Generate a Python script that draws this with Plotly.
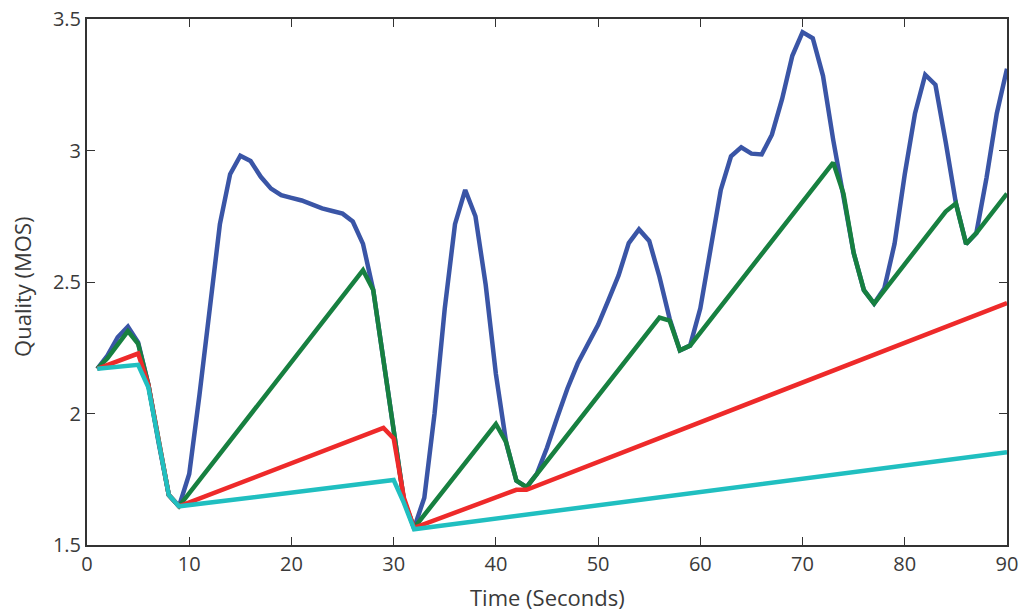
import plotly.graph_objects as go

# Blue series (sampled every second)
blue_x = list(range(1, 91))
blue_y = [2.17, 2.22, 2.29, 2.33, 2.27, 2.11, 1.89, 1.69, 1.647, 1.77,
          2.07, 2.41, 2.72, 2.91, 2.98, 2.96, 2.90, 2.855, 2.83, 2.82,
          2.81, 2.795, 2.78, 2.77, 2.76, 2.73, 2.645, 2.47, 2.20, 1.91,
          1.67, 1.565, 1.68, 2.00, 2.40, 2.72, 2.85, 2.75, 2.49, 2.15,
          1.89, 1.745, 1.72, 1.77, 1.87, 1.985, 2.095, 2.19, 2.265, 2.337,
          2.43, 2.525, 2.648, 2.70, 2.656, 2.52, 2.36, 2.24, 2.258, 2.40,
          2.625, 2.85, 2.978, 3.012, 2.988, 2.985, 3.06, 3.196, 3.36, 3.45,
          3.427, 3.284, 3.04, 2.83, 2.61, 2.469, 2.418, 2.476, 2.645, 2.91,
          3.141, 3.288, 3.25, 3.033, 2.80, 2.645, 2.686, 2.897, 3.141, 3.311]

# Green series (breakpoints)
green_x = [1, 2, 4, 5, 6, 7, 8, 9, 27, 28, 29, 30, 31, 32, 40, 41, 42, 43,
           56, 57, 58, 59, 73, 74, 75, 76, 77, 84, 85, 86, 87, 90]
green_y = [2.17, 2.21, 2.313, 2.265, 2.11, 1.89, 1.69, 1.647, 2.545, 2.47,
           2.20, 1.91, 1.67, 1.565, 1.96, 1.891, 1.745, 1.72,
           2.365, 2.353, 2.24, 2.258, 2.954, 2.836, 2.611, 2.469, 2.418,
           2.768, 2.799, 2.645, 2.686, 2.836]

# Red series (breakpoints)
red_x = [1, 5, 6, 7, 8, 9, 29, 30, 31, 32, 42, 43, 90]
red_y = [2.17, 2.228, 2.11, 1.89, 1.69, 1.647, 1.945, 1.905, 1.68, 1.565,
         1.71, 1.71, 2.42]

# Cyan series (breakpoints)
cyan_x = [1, 5, 6, 7, 8, 9, 30, 31, 32, 90]
cyan_y = [2.17, 2.185, 2.10, 1.89, 1.69, 1.647, 1.747, 1.66, 1.56, 1.853]

x_ticks = [0, 10, 20, 30, 40, 50, 60, 70, 80, 90]
y_ticks = [1.5, 2, 2.5, 3, 3.5]
y_tick_text = ["1.5", "2", "2.5", "3", "3.5"]
x_title = "Time (Seconds)"
y_title = "Quality (MOS)"

series = [
    (blue_x, blue_y, "#3a55a6"),
    (green_x, green_y, "#178040"),
    (red_x, red_y, "#ee2a2a"),
    (cyan_x, cyan_y, "#20bfc0"),
]

fig = go.Figure()
for xs, ys, col in series:
    fig.add_trace(go.Scatter(x=xs, y=ys, mode="lines",
                             line=dict(color=col, width=4.5),
                             showlegend=False, hoverinfo="skip"))

font_fam = "Open Sans, Noto Sans, sans-serif"
txt_col = "#3a3a3a"
ax_common = dict(ticks="inside", ticklen=8, tickcolor="#333333", tickwidth=1.2,
                 showgrid=False, zeroline=False, showline=True,
                 linecolor="#333333", linewidth=2, mirror="ticks",
                 tickfont=dict(size=20, color=txt_col), automargin=False,
                 ticklabeloverflow="allow")

fig.update_layout(
    width=1024, height=613,
    margin=dict(l=87, r=17, t=19, b=68),
    paper_bgcolor="white", plot_bgcolor="white",
    font=dict(family=font_fam, color=txt_col, size=20),
    xaxis=dict(range=[0, 90], tickvals=x_ticks, **ax_common),
    yaxis=dict(range=[1.5, 3.5], tickvals=y_ticks, ticktext=y_tick_text,
               **ax_common),
    annotations=[
        dict(text=x_title, xref="paper", yref="paper", x=0.501, y=-0.099,
             xanchor="center", yanchor="middle", showarrow=False,
             font=dict(size=22, color=txt_col)),
        dict(text=y_title, xref="paper", yref="paper", x=-0.0707, y=0.4905,
             xanchor="center", yanchor="middle", showarrow=False,
             textangle=-90, font=dict(size=22, color=txt_col)),
    ],
)

# remove the default 8px page margin so the 1024x613 figure fills the window
fig.write_html("out.html",
               config={"displayModeBar": False},
               post_script="document.body.style.margin='0';"
                           "document.body.style.overflow='hidden';")
